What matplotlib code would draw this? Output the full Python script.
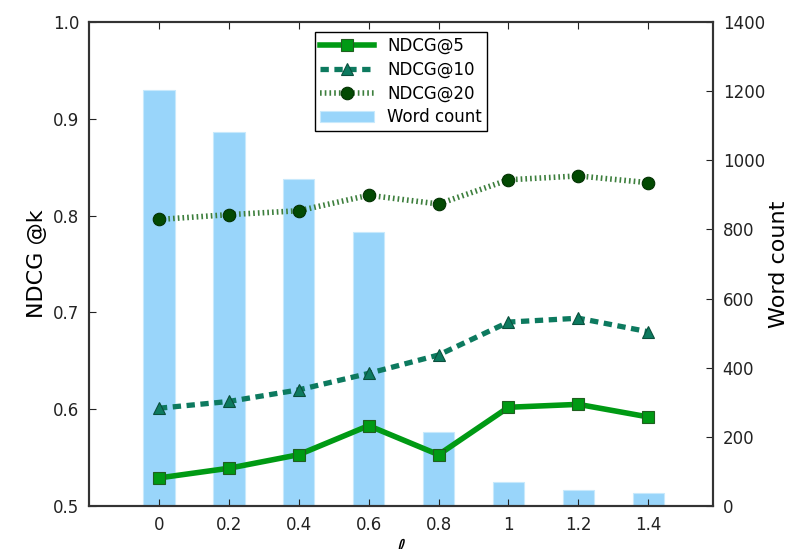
import matplotlib
matplotlib.use("Agg")
import matplotlib.pyplot as plt
import numpy as np

x_labels = ["0", "0.2", "0.4", "0.6", "0.8", "1", "1.2", "1.4"]
x_vals = [0.0, 0.2, 0.4, 0.6, 0.8, 1.0, 1.2, 1.4]
ndcg5 = [0.529, 0.539, 0.553, 0.583, 0.553, 0.602, 0.605, 0.592]
ndcg10 = [0.601, 0.608, 0.620, 0.637, 0.656, 0.690, 0.694, 0.680]
ndcg20 = [0.796, 0.801, 0.805, 0.821, 0.812, 0.837, 0.841, 0.834]
word_count = [1203, 1082, 946, 793, 214, 69, 46, 39]

plt.rcParams['font.family'] = ['DejaVu Sans']
plt.rcParams['lines.scale_dashes'] = False
fig = plt.figure(figsize=(7.91, 5.49), dpi=100)
ax = fig.add_axes([89/791, (549-506)/549, 624/791, 484/549])
ax2 = ax.twinx()

bars = ax2.bar(x_vals, word_count, width=0.09, color='#99d5fa', edgecolor='#c8e9fc',
               linewidth=0.8, label='Word count', zorder=1)
ax2.set_ylim(0, 1400)
ax2.set_yticks(np.arange(0, 1401, 200))
ax2.set_ylabel('Word count', fontsize=16, labelpad=3)

ax.set_zorder(ax2.get_zorder() + 1)
ax.patch.set_visible(False)

l5, = ax.plot(x_vals, ndcg5, '-s', color='#009a14', lw=4, ms=9,
              markeredgecolor='#1f5f1f', markeredgewidth=0.8, label='NDCG@5')
l10, = ax.plot(x_vals, ndcg10, '-^', color='#0d7a5f', lw=3.8, ms=9,
               markeredgecolor='#0a4f3c', markeredgewidth=0.8, label='NDCG@10')
l10.set_dashes((6, 4))
l20, = ax.plot(x_vals, ndcg20, '-o', color='#3d7f3d', lw=4, ms=9,
               markerfacecolor='#034a03', markeredgecolor='#023002',
               markeredgewidth=0.8, label='NDCG@20')
l20.set_dashes((1.2, 2.2))

ax.set_xlim(-0.2, 1.585)
ax.set_ylim(0.5, 1.0)
ax.set_xticks(x_vals)
ax.set_xticklabels(x_labels)
ax.set_yticks(np.arange(0.5, 1.01, 0.1))
ax.set_yticklabels(['0.5', '0.6', '0.7', '0.8', '0.9', '1.0'])
ax.set_ylabel('NDCG @k', fontsize=16, labelpad=4)
ax.set_xlabel(r'$\ell$', fontsize=16)

for a in (ax, ax2):
    a.tick_params(direction='in', length=5, width=0.8, labelsize=12, colors='#222222', pad=7)
    for s in a.spines.values():
        s.set_linewidth(1.5)
        s.set_color('#333333')
ax.tick_params(axis='x', top=True)

handles = [l5, l10, l20, bars]
leg = ax.legend(handles, [h.get_label() for h in handles], loc='upper center',
                bbox_to_anchor=(0.5, 0.997), fontsize=12, fancybox=False,
                framealpha=1, edgecolor='black', borderpad=0.3, handlelength=3.2,
                labelspacing=0.35)
leg.get_frame().set_linewidth(1.0)

fig.savefig('out.png', dpi=100)
